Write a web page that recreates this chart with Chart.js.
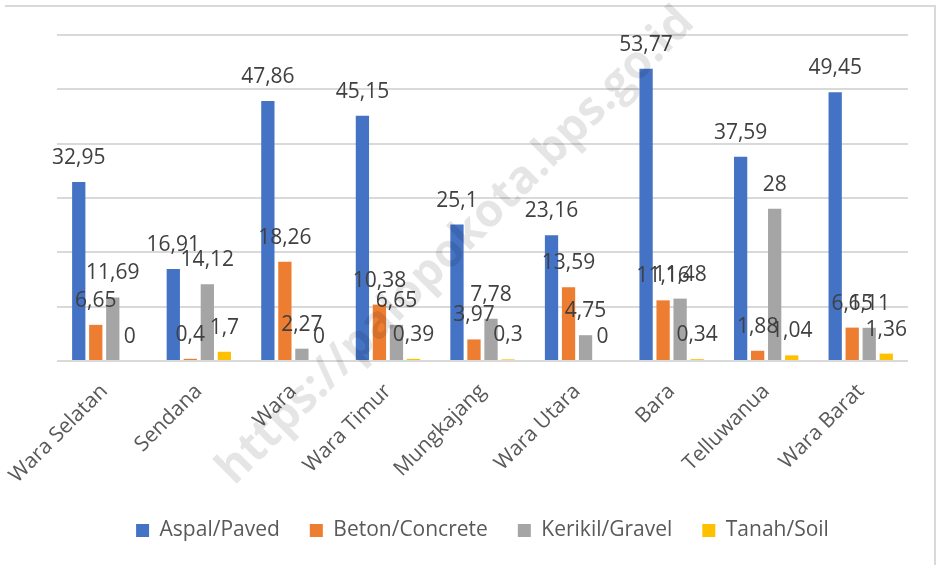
<!DOCTYPE html>
<html>
<head>
<meta charset="utf-8">
<script src="https://cdn.jsdelivr.net/npm/chart.js@4/dist/chart.umd.min.js"></script>
<style>
  body { margin: 0; background: #fff; }
  #wrap { position: relative; width: 941px; height: 565px; }
  #frame { position: absolute; left: 5px; top: 5px; width: 929px; height: 570px; border-top: 2px solid #d9d9d9; border-right: 2px solid #d9d9d9; }
  canvas { position: absolute; left: 0; top: 0; }
</style>
</head>
<body>
<div id="wrap">
  <div id="frame"></div>
  <canvas id="roadChart" width="941" height="565"></canvas>
</div>
<script>
// Panjang jalan menurut jenis permukaan, per kecamatan
const kecamatan = ["Wara Selatan", "Sendana", "Wara", "Wara Timur", "Mungkajang", "Wara Utara", "Bara", "Telluwanua", "Wara Barat"];
const aspal  = [32.95, 16.91, 47.86, 45.15, 25.1, 23.16, 53.77, 37.59, 49.45];
const beton  = [6.65, 0.4, 18.26, 10.38, 3.97, 13.59, 11.16, 1.88, 6.15];
const kerikil = [11.69, 14.12, 2.27, 6.65, 7.78, 4.75, 11.48, 28, 6.11];
const tanah  = [0, 1.7, 0, 0.39, 0.3, 0, 0.34, 1.04, 1.36];
const yTicks = [0, 10, 20, 30, 40, 50, 60];

const font = '"Open Sans", "Noto Sans", sans-serif';

const valueLabels = {
    id: 'valueLabels',
    afterDatasetsDraw(chart) {
        const ctx = chart.ctx;
        ctx.save();
        ctx.font = '21px ' + font;
        ctx.fillStyle = '#404040';
        ctx.textAlign = 'center';
        ctx.textBaseline = 'middle';
        chart.data.datasets.forEach((ds, i) => {
            chart.getDatasetMeta(i).data.forEach((bar, j) => {
                ctx.fillText(String(ds.data[j]).replace('.', ','), bar.x, bar.y - 24);
            });
        });
        ctx.restore();
    }
};

const watermark = {
    id: 'watermark',
    afterDraw(chart) {
        const ctx = chart.ctx;
        ctx.save();
        ctx.translate(456, 246);
        ctx.rotate(-Math.PI / 4);
        ctx.font = 'bold 46px ' + font;
        ctx.fillStyle = 'rgba(0,0,0,0.10)';
        ctx.textAlign = 'center';
        ctx.textBaseline = 'middle';
        ctx.fillText('https://palopokota.bps.go.id', 0, 0);
        ctx.restore();
    }
};

const ctx = document.getElementById('roadChart').getContext('2d');
const roadChart = new Chart(ctx, {
    type: 'bar',
    data: {
        labels: kecamatan,
        datasets: [
            { label: 'Aspal/Paved', data: aspal, backgroundColor: '#4472c4' },
            { label: 'Beton/Concrete', data: beton, backgroundColor: '#ed7d31' },
            { label: 'Kerikil/Gravel', data: kerikil, backgroundColor: '#a5a5a5' },
            { label: 'Tanah/Soil', data: tanah, backgroundColor: '#ffc000' }
        ]
    },
    options: {
        responsive: false,
        animation: false,
        layout: { padding: { left: 57, right: 33, top: 35, bottom: 14 } },
        datasets: { bar: { categoryPercentage: 0.72, barPercentage: 0.78 } },
        scales: {
            x: {
                grid: { display: false },
                border: { display: false },
                ticks: { font: { family: font, size: 21 }, color: '#595959', minRotation: 45, maxRotation: 45, autoSkip: false, padding: 10 },
                afterFit: (s) => { s.height = 129; s.paddingLeft = 0; s.paddingRight = 0; }
            },
            y: {
                min: yTicks[0], max: yTicks[yTicks.length - 1],
                afterBuildTicks: (s) => { s.ticks = yTicks.map(v => ({ value: v })); },
                ticks: { display: false },
                grid: { color: '#d9d9d9', lineWidth: 2, drawTicks: false },
                border: { display: false }
            }
        },
        plugins: {
            legend: {
                position: 'bottom',
                labels: { font: { family: font, size: 21 }, color: '#595959', boxWidth: 13, boxHeight: 13, padding: 30 }
            },
            tooltip: { enabled: false }
        }
    },
    plugins: [valueLabels, watermark]
});
</script>
</body>
</html>
